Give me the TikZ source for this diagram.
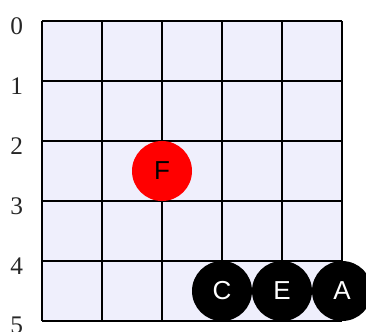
\documentclass[tikz,border=0pt]{standalone}
\usepackage{fontspec}
\setmainfont{Liberation Serif}
\newfontfamily\tokenfont{Liberation Sans}
\definecolor{cellfill}{HTML}{EFEFFC}
\definecolor{tokred}{HTML}{FF0000}
\usetikzlibrary{positioning}

\begin{document}
\begin{tikzpicture}[
  x=45pt, y=-45pt,
  rowlabel/.style={font=\fontsize{19}{21}\selectfont, text=black!85, inner sep=0pt},
  token/.style={circle, minimum size=45pt, inner sep=0pt,
                font=\tokenfont\fontsize{19.5}{21}\selectfont},
  blacktok/.style={token, fill=black, text=white},
  redtok/.style={token, fill=tokred, text=black},
]
\useasboundingbox (-0.7,-0.35) rectangle (5.4,5.183);

% board
\fill[cellfill] (0,0) rectangle (5,5);
\foreach \i in {0,...,5} {
  \draw[line width=1.2pt] (\i,0) -- (\i,5);
  \draw[line width=1.2pt] (0,\i) -- (5,\i);
}

% row numbers
\foreach \r in {0,...,5}
  \node[rowlabel] (l\r) at (-0.42,\r+0.08) {\r};

% tokens
\node[redtok] (F) at (2,2.5) {F};
\node[blacktok] (C) at (3,4.5) {C};
\node[blacktok] (E) at (4,4.5) {E};
\node[blacktok] (A) at (5,4.5) {A};
\end{tikzpicture}
\end{document}
